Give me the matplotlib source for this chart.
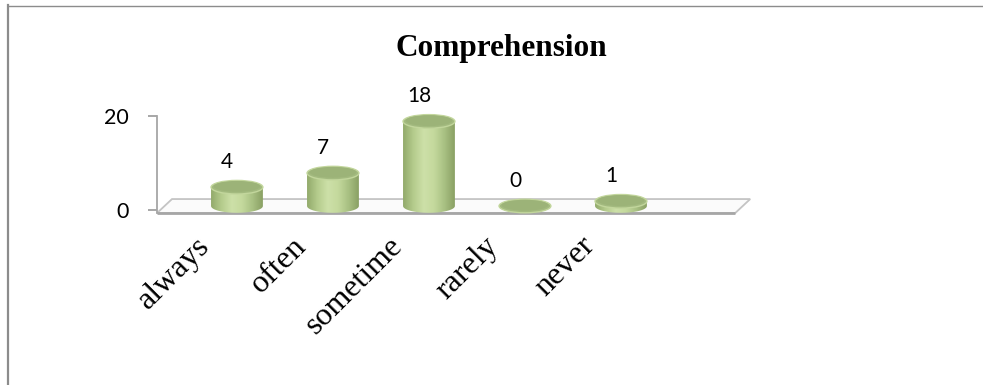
import matplotlib
matplotlib.use("Agg")
import matplotlib.pyplot as plt
import numpy as np
from matplotlib.colors import LinearSegmentedColormap
from matplotlib.lines import Line2D
from matplotlib.patches import Ellipse, PathPatch, Polygon
from matplotlib.path import Path

title = "Comprehension"
categories = ["always", "often", "sometime", "rarely", "never"]
values = [4, 7, 18, 0, 1]
y_ticks = [0, 20]

W, H = 983, 385
fig = plt.figure(figsize=(W / 100, H / 100), dpi=100)


def fx(px):
    return px / W


def fy(py):
    return 1 - py / H


# axes placed so that 1 category = 96 px, 1 unit = 4.7 px
xlim = (-0.833, 5.4)
ylim = (-0.7, 20.2)
left_px, right_px = 157, 157 + (xlim[1] - xlim[0]) * 96
bot_px, top_px = 210 - ylim[0] * 4.7, 210 - ylim[1] * 4.7
ax = fig.add_axes([fx(left_px), fy(bot_px), fx(right_px - left_px), (bot_px - top_px) / H])
ax.patch.set_alpha(0)

# floor
depth = 14 / 4.7
front = ylim[0] + 0.05
n = len(categories)
floor_x0, floor_x1 = xlim[0], n + 0.19
dx = 15 / 96
ax.add_patch(Polygon([(floor_x0, front), (floor_x1, front), (floor_x1 + dx, front + depth),
                      (floor_x0 + dx, front + depth)], closed=True, facecolor="#fbfbfb",
                     edgecolor="#c4c4c4", lw=1.3, zorder=1, clip_on=False))
ax.plot([floor_x0, floor_x1], [front, front], color="#a6a6a6", lw=2.0, zorder=1.5,
        clip_on=False, solid_capstyle="butt")

# cylinders
r = 0.27
ry = 6.8 / 4.7
base = 0.85
body_cmap = LinearSegmentedColormap.from_list(
    "body", ["#93ab6c", "#b5cc8d", "#cde0a8", "#c4d99d", "#a9c183", "#8aa164"])
grad = body_cmap(np.linspace(0, 1, 64))[None, :, :]
for i, v in enumerate(values):
    yt = base + v
    t = np.linspace(np.pi, 2 * np.pi, 40)
    arc = np.column_stack([i + r * np.cos(t), base + ry * np.sin(t)])
    verts = np.vstack([[i - r, yt], arc, [i + r, yt], [i - r, yt]])
    codes = [Path.MOVETO] + [Path.LINETO] * (len(verts) - 2) + [Path.CLOSEPOLY]
    body = PathPatch(Path(verts, codes), facecolor="none", edgecolor="none")
    ax.add_patch(body)
    im = ax.imshow(grad, extent=(i - r, i + r, base - ry, yt + 0.01), aspect="auto",
                   zorder=2, interpolation="bilinear")
    im.set_clip_path(body)
    ax.add_patch(Ellipse((i, yt), 2 * r, 2 * ry, facecolor="#a3ba7f",
                         edgecolor="#c2d69c", lw=1.0, zorder=3, clip_on=False))
    ax.add_patch(Ellipse((i, yt + ry * 0.12), 2 * r * 0.9, 2 * ry * 0.8,
                         facecolor="#9cb378", edgecolor="none", zorder=3.1, clip_on=False))
    ax.annotate(str(v), (i, yt + ry), xytext=(-7, 6), textcoords="offset points",
                ha="center", va="bottom", fontsize=15, family="Lato", color="black",
                zorder=5, annotation_clip=False)
    ax.text(i - 0.43, -4.6, categories[i], rotation=45, rotation_mode="anchor",
            ha="right", va="top", fontsize=23, family="Liberation Serif", color="black")

ax.set_xlim(*xlim)
ax.set_ylim(*ylim)
ax.set_xticks([])
ax.set_yticks(y_ticks)
ax.set_yticklabels([str(t) for t in y_ticks], family="Lato", fontsize=15.5)
ax.tick_params(axis="y", length=6.5, width=1.3, color="#a0a0a0", pad=14)
for side in ["top", "right", "bottom"]:
    ax.spines[side].set_visible(False)
ax.spines["left"].set_color("#a6a6a6")
ax.spines["left"].set_linewidth(1.3)
ax.spines["left"].set_bounds(ylim[0] + 0.05, 20)

fig.text(fx(501), fy(56), title, ha="center", va="baseline", fontsize=22.5,
         family="Liberation Serif", weight="bold")

# chart border
fig.add_artist(Line2D([fx(8), fx(8)], [fy(5), 0], color="#8c8c8c", lw=1.6))
fig.add_artist(Line2D([fx(8), 1], [fy(5.5), fy(5.5)], color="#8c8c8c", lw=1.0))

fig.savefig("out.png", dpi=100)
